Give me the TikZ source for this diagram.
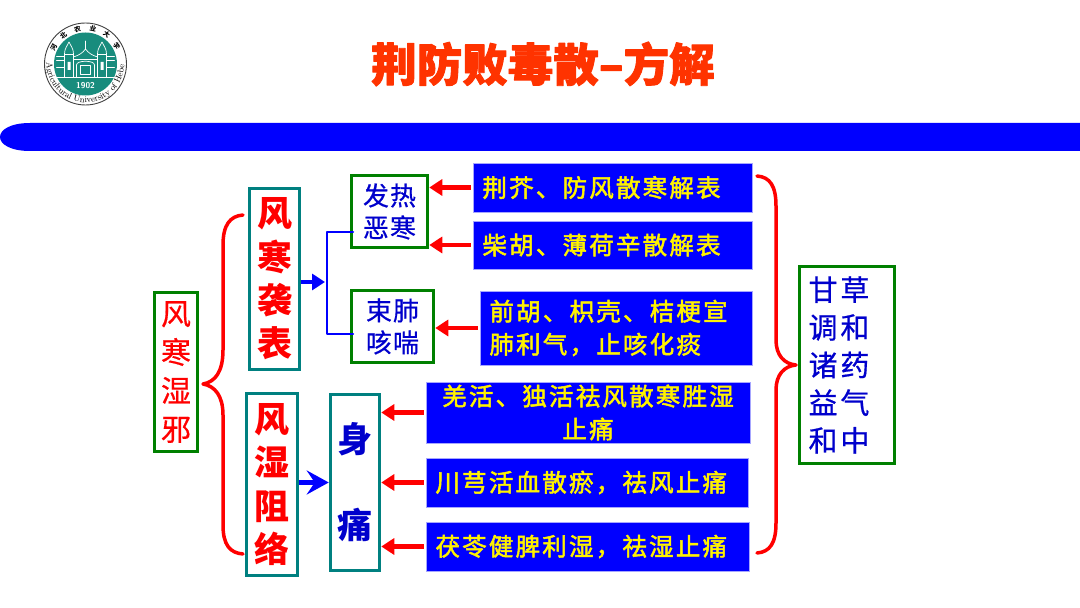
\documentclass[tikz,border=0pt]{standalone}
\usepackage{fontspec}
\newfontfamily\cjk{Noto Sans CJK SC}
\usetikzlibrary{arrows.meta,decorations.text}
\definecolor{boxgreen}{RGB}{0,128,0}
\definecolor{boxteal}{RGB}{0,128,128}
\definecolor{seal}{RGB}{24,140,125}
\definecolor{inkblue}{RGB}{0,0,204}
\definecolor{titlered}{RGB}{255,51,0}
\begin{document}
\begin{tikzpicture}[x=1pt, y=1pt, line cap=round, line join=round, >=stealth,
	box/.style={draw, line width=3.5pt, line cap=butt, line join=miter, fill=white, inner sep=0pt, align=center},
	med/.style={draw=blue!35, line width=.6pt, line join=miter, fill=blue, text=yellow, inner ysep=0pt, inner xsep=9.5pt, align=left, font=\cjk\fontsize{24.5}{33}\selectfont\addfontfeatures{LetterSpace=9,FakeBold=2}},
	sick/.style={box, draw=boxgreen, text=inkblue, font=\cjk\fontsize{26}{32}\selectfont\addfontfeatures{LetterSpace=4,FakeBold=.6}},
	big/.style={box, draw=boxteal, font=\cjk\bfseries\fontsize{35}{43.3}\selectfont},
	redarr/.style={draw=red, line width=4.5pt, line cap=butt, shorten <=2pt, -{Triangle[length=13pt,width=16pt]}},
	brace/.style={draw=red, line width=3.5pt}]
	\useasboundingbox (0,0) rectangle (1080,608);
	%title and band
	\node[text=titlered, font=\cjk\bfseries\fontsize{45.5}{45.5}\selectfont\addfontfeatures{FakeBold=2}] (title) at (543,544) {荆防败毒散–方解};
	\fill[blue] (1080,485)--(30,485) .. controls (10,485) and (0,478) .. (0,471) .. controls (0,464) and (10,457) .. (30,457)--(1080,457)--cycle;
	%seal
	\begin{scope}[shift={(85.5,544)}]
		\draw[black!75, fill=white, line width=.9pt] (0,0) circle (41);
		\fill[seal] (0,0) circle (31.5);
		\foreach \c/\a in {河/152,北/128,农/103,业/78,大/54,学/30}
		{\node[rotate=\a-90, font=\cjk\bfseries\fontsize{6.5}{6.5}\selectfont, inner sep=0pt] (seal\a) at (\a:36) {\c};}
		\path[decorate, decoration={text along path, text align=center, text={|\fontsize{8.6}{8.6}\selectfont|Agricultural University of Hebei}}] (-38.8,0) arc (180:360:38.8);
		\begin{scope}[draw=white, line width=.7pt]
			\draw (-29,-13)--(29,-13) (-29,4)--(-21,4) (21,4)--(29,4) (-29,8)--(-21,8) (21,8)--(29,8) (-29,-3)--(-21,-3) (21,-3)--(29,-3);
			\draw (-21,-13)--(-21,10) (-12,-13)--(-12,10) (12,-13)--(12,10) (21,-13)--(21,10) (-21,10)--(-12,10) (12,10)--(21,10);
			\draw (-21,10) .. controls (-21,16) and (-18,18) .. (-16.5,22) .. controls (-15,18) and (-12,16) .. (-12,10);
			\draw (21,10) .. controls (21,16) and (18,18) .. (16.5,22) .. controls (15,18) and (12,16) .. (12,10);
			\draw (-12,7) .. controls (-6,9) and (-3,11) .. (0,15) .. controls (3,11) and (6,9) .. (12,7);
			\draw (-12,5)--(12,5);
			\draw (0,15)--(0,23) (-9,-13)--(-9,-1) .. controls (-9,4) and (9,4) .. (9,-1)--(9,-13);
			\draw (-5,-10) rectangle (5,-1);
		\end{scope}
		\fill[white] (-18,-6) rectangle (-15,2) (15,-6) rectangle (18,2);
		\node[text=white, font=\sffamily\bfseries\fontsize{8.5}{8.5}\selectfont, inner sep=0pt] (year) at (0,-22) {1902};
	\end{scope}
	%boxes, left part
	\node[box, draw=boxgreen, text=red, minimum width=43pt, minimum height=159pt, font=\cjk\fontsize{30}{38.5}\selectfont\addfontfeatures{FakeBold=.5}] (X) at (176,236) {风\\寒\\湿\\邪};
	\node[big, text=red, minimum width=50pt, minimum height=181pt] (B) at (274.5,329) {风\\寒\\袭\\表};
	\node[big, text=red, minimum width=51pt, minimum height=182pt] (W) at (272,123.5) {风\\湿\\阻\\络};
	\node[big, text=inkblue, minimum width=49pt, minimum height=176pt, font=\cjk\bfseries\fontsize{35}{86}\selectfont] (T) at (355,125.5) {身\\痛};
	\node[sick, minimum width=76pt, minimum height=72pt] (F) at (389.5,396.5) {发热\\恶寒};
	\node[sick, minimum width=82pt, minimum height=72pt] (S) at (392.5,281.5) {束肺\\咳喘};
	\node[box, draw=boxgreen, text=inkblue, minimum width=95pt, minimum height=197pt, font=\cjk\fontsize{29}{37.7}\selectfont\addfontfeatures{LetterSpace=10,FakeBold=.6}] (G) at (847,243) {\hspace{-16pt}甘草\\\hspace{-16pt}调和\\\hspace{-16pt}诸药\\\hspace{-16pt}益气\\\hspace{-16pt}和中};
	%medicine boxes
	\node[med, text width=260pt, minimum height=49pt] (Y1) at (612.5,420.5) {荆芥、防风散寒解表};
	\node[med, text width=260pt, minimum height=48pt] (Y2) at (612.5,363) {柴胡、薄荷辛散解表};
	\node[med, text width=253pt, minimum height=74pt] (Y3) at (616,280) {前胡、枳壳、桔梗宣\\肺利气，止咳化痰};
	\node[med, align=center, text width=305pt, minimum height=61pt] (Y4) at (588,195.5) {羌活、独活祛风散寒胜湿\\止痛};
	\node[med, text width=303pt, minimum height=49pt] (Y5) at (587,125.5) {川芎活血散瘀，祛风止痛};
	\node[med, text width=304pt, minimum height=49pt] (Y6) at (587.5,61.5) {茯苓健脾利湿，祛湿止痛};
	%connectors
	\foreach \a/\b in {Y1/F,Y2/F,Y3/S,Y4/T,Y5/T,Y6/T}
	{\draw[redarr] (\a.west)--(\b.east |- \a.west);}
	\path (353,376) coordinate (P)++(-26,0) coordinate (Q)++(0,-102) coordinate (R)++(26,0) coordinate (U)
		(Q)++(0,-50) coordinate (M);
	\draw[blue, line width=2.5pt] (P)--(Q)--(R)--(U);
	\draw[blue, line width=4.5pt, line cap=butt, -{Triangle[length=13pt,width=16pt]}, shorten >=2pt] (B.east |- M)--(M);
	\draw[blue, line width=4.5pt, line cap=butt, -{Stealth[length=22pt,width=24pt,inset=8pt]}] (W.east |- T.west)--(T.west);
	%braces
	\draw[brace] (243,393) .. controls (230,392) and (223,383) .. (223,363)--(223,258) .. controls (223,236) and (215,226) .. (203,224) .. controls (215,222) and (223,212) .. (223,193)--(223,83) .. controls (223,63) and (230,55) .. (243,54);
	\draw[brace] (757,432) .. controls (770,431) and (776,422) .. (776,402)--(776,268) .. controls (776,253) and (784,244) .. (796,243) .. controls (784,242) and (776,233) .. (776,218)--(776,85) .. controls (776,65) and (770,56) .. (757,55);
\end{tikzpicture}
\end{document}
